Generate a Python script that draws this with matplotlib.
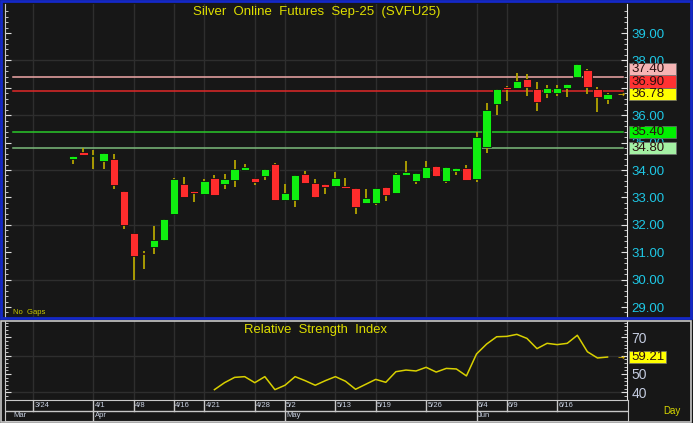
import numpy as np
import matplotlib
matplotlib.use('Agg')
import matplotlib.pyplot as plt
from matplotlib.patches import Rectangle
from matplotlib.transforms import blended_transform_factory

plt.rcParams['font.family'] = ['Liberation Sans', 'DejaVu Sans']

W, H = 693, 423

# daily bars (index 4..57 on the "no gaps" axis)
bar_first = 4
opens = [34.40, 34.65, 34.51, 34.34, 34.39, 33.22, 31.71, 30.98, 31.19, 31.46,
         32.39, 33.49, 33.22, 33.12, 33.72, 33.49, 33.64, 34.00, 33.72, 33.77,
         34.23, 32.89, 32.89, 33.86, 33.53, 33.49, 33.40, 33.42, 33.35, 32.80,
         32.80, 33.38, 33.16, 33.83, 33.59, 33.72, 34.16, 33.59, 33.96, 34.08,
         33.66, 34.85, 36.40, 37.02, 37.00, 37.32, 36.96, 36.82, 36.82, 37.00,
         37.38, 37.65, 36.95, 36.58]
highs = [34.52, 34.79, 34.73, 34.63, 34.58, 33.22, 31.71, 31.06, 31.96, 32.21,
         33.70, 33.76, 33.22, 33.66, 33.82, 33.85, 34.36, 34.22, 33.72, 34.05,
         34.27, 33.49, 33.83, 33.95, 33.66, 33.49, 33.94, 33.70, 33.35, 33.30,
         33.35, 33.38, 33.90, 34.33, 33.89, 34.32, 34.16, 34.10, 34.06, 34.19,
         35.40, 36.43, 36.97, 37.07, 37.53, 37.49, 37.22, 37.10, 37.10, 37.13,
         37.87, 37.70, 37.04, 36.80]
lows = [34.21, 34.54, 34.04, 34.04, 33.30, 31.86, 29.99, 30.40, 30.92, 31.42,
        32.39, 33.00, 32.84, 33.12, 33.09, 33.30, 33.39, 34.00, 33.45, 33.64,
        32.89, 32.89, 32.66, 33.53, 32.97, 33.12, 33.40, 33.33, 32.39, 32.80,
        32.71, 32.87, 33.16, 33.83, 33.48, 33.66, 33.76, 33.54, 33.83, 33.62,
        33.55, 34.61, 36.01, 36.53, 37.00, 36.71, 36.16, 36.62, 36.71, 36.68,
        37.35, 36.77, 36.11, 36.40]
closes = [34.52, 34.54, 34.56, 34.63, 33.46, 31.99, 30.86, 30.92, 31.45, 32.21,
          33.66, 33.00, 33.15, 33.59, 33.09, 33.66, 34.03, 34.12, 33.57, 34.05,
          32.89, 33.16, 33.83, 33.53, 33.01, 33.39, 33.72, 33.33, 32.64, 32.98,
          33.35, 33.08, 33.86, 33.93, 33.89, 34.10, 33.79, 34.10, 34.06, 33.62,
          35.19, 36.19, 36.97, 36.97, 37.25, 37.04, 36.49, 36.99, 36.99, 37.13,
          37.87, 37.04, 36.65, 36.78]

# RSI, starts at index 18
rsi_first = 18
rsi = [41.4, 45.2, 48.1, 48.5, 45.2, 48.5, 41.4, 43.8, 48.5, 46.3,
       43.8, 46.3, 48.5, 46.0, 41.6, 44.3, 47.0, 45.4, 51.2, 52.1,
       51.6, 53.6, 51.0, 53.0, 52.7, 48.9, 60.9, 66.3, 70.3, 70.5,
       71.6, 69.4, 63.8, 66.7, 66.0, 66.7, 71.1, 62.1, 58.7, 59.21]

levels = [37.40, 36.90, 35.40, 34.80]
level_line_colors = ['#f0a8a8', '#e02828', '#2ac82a', '#7cbc7c']
level_tag_colors = ['#f6b4b4', '#ff3232', '#00f000', '#a4f0a4']
last_price = 36.78

price_ticks = [29, 30, 31, 32, 33, 34, 35, 36, 37, 38, 39]
rsi_ticks = [40, 50, 60, 70]

date_pos = [0, 6, 10, 14, 17, 22, 25, 30, 34, 39, 44, 47, 52]
date_labels = ['3/24', '4/1', '4/8', '4/16', '4/21', '4/28', '5/2', '5/13',
               '5/19', '5/26', '6/4', '6/9', '6/16']
month_pos = [6, 25, 44]
month_labels = ['Mar', 'Apr', 'May', 'Jun']

BG = '#171717'
GRID = '#2e2e2e'
XLIM = (-2.78, 58.93)


def fig_rect(x0, y0, x1, y1):
    return [x0 / W, 1 - y1 / H, (x1 - x0) / W, (y1 - y0) / H]


fig = plt.figure(figsize=(W / 100, H / 100), dpi=100, facecolor=BG)

# ---------------- price panel ----------------
ax = fig.add_axes(fig_rect(5, 4, 627, 317), facecolor=BG)
ax.set_xlim(*XLIM)
ax.set_ylim(28.635, 40.06)

for g in range(30, 40, 2):
    ax.axhline(g, color=GRID, lw=1, zorder=0.5)
for p in date_pos:
    ax.axvline(p, color=GRID, lw=1, zorder=0.5)

for lvl, c in zip(levels, level_line_colors):
    ax.axhline(lvl, xmin=0.013, xmax=0.994, color=c, lw=1.1, zorder=1.5)

x = np.arange(bar_first, bar_first + len(opens))
o = np.array(opens)
c = np.array(closes)
up = c >= o
ax.vlines(x, lows, highs, color='#b4a400', lw=1.3, zorder=2)
body = np.maximum(np.abs(c - o), 0.05)
ax.bar(x, body, bottom=np.minimum(o, c), width=0.82,
       color=np.where(up, '#10f010', '#ff2c2c'),
       edgecolor='#101010', lw=0.6, zorder=3)

# tick labels hidden where the value tags sit on top of them
tags_all = levels + [last_price]
ax.yaxis.tick_right()
ax.set_yticks(price_ticks)
ax.set_yticklabels(['' if any(abs(t - v) < 0.15 for v in tags_all) else f'{t:.2f}'
                    for t in price_ticks])
ax.set_yticks(np.arange(28.8, 40.0, 0.2), minor=True)
ax.tick_params(axis='y', which='both', left=True, right=True, labelleft=False,
               labelright=True, direction='in', colors='#e0e0e0',
               labelcolor='#1ec8e6', labelsize=9.5, pad=3)
ax.tick_params(axis='y', which='major', length=4)
ax.tick_params(axis='y', which='minor', length=2)
ax.set_xticks([])
for s in ['top', 'bottom']:
    ax.spines[s].set_visible(False)
ax.spines['right'].set_color('#e8e8e8')
ax.spines['left'].set_color('#c8c8c8')

# value tags on the right axis, stacked so they don't overlap
tr = blended_transform_factory(ax.transAxes, ax.transData)
tag_h = 12.3 / 27.4
above = sorted([t for t in zip(levels, level_tag_colors) if t[0] > last_price])
below = sorted([t for t in zip(levels, level_tag_colors) if t[0] < last_price],
               reverse=True)
placed = [(last_price, last_price, '#ffff00')]
prev = last_price
for v, col in above:
    yv = max(v, prev + tag_h)
    placed.append((v, yv, col))
    prev = yv
prev = last_price
for v, col in below:
    yv = min(v, prev - tag_h)
    placed.append((v, yv, col))
    prev = yv
for v, yv, col in placed:
    ax.add_patch(Rectangle((1.0035, yv - tag_h / 2), 47 / 622, tag_h,
                           transform=tr, facecolor=col, edgecolor='#707070',
                           lw=0.5, clip_on=False, zorder=5))
    ax.text(1.0075, yv, f'{v:.2f}', transform=tr, ha='left', va='center',
            fontsize=9.5, color='#2a1010', clip_on=False, zorder=6)
ax.text(58.35, last_price, '→', color='#e8c000', fontsize=6, ha='center',
        va='center', family='DejaVu Sans', clip_on=False, zorder=6)

# ---------------- RSI panel ----------------
axr = fig.add_axes(fig_rect(5, 321, 627, 400), facecolor=BG)
axr.set_xlim(*XLIM)
axr.set_ylim(35.74, 78.9)
for g in [40, 60]:
    axr.axhline(g, color=GRID, lw=1, zorder=0.5)
for p in date_pos:
    axr.axvline(p, color=GRID, lw=1, zorder=0.5)
xr = np.arange(rsi_first, rsi_first + len(rsi))
axr.plot(xr, rsi, color='#d8d000', lw=1.1, zorder=3)

axr.yaxis.tick_right()
axr.set_yticks(rsi_ticks)
axr.set_yticklabels(['' if abs(t - rsi[-1]) < 3 else str(t) for t in rsi_ticks])
axr.set_yticks(np.arange(36, 79, 2), minor=True)
axr.tick_params(axis='y', which='both', left=True, right=True, labelleft=False,
                labelright=True, direction='in', colors='#e0e0e0',
                labelcolor='#c4cce0', labelsize=10, pad=3)
axr.tick_params(axis='y', which='major', length=4)
axr.tick_params(axis='y', which='minor', length=2)
axr.set_xticks([])
for s in ['top', 'bottom']:
    axr.spines[s].set_visible(False)
axr.spines['right'].set_color('#e8e8e8')
axr.spines['left'].set_color('#c8c8c8')

trr = blended_transform_factory(axr.transAxes, axr.transData)
rsi_tag_h = 11.6 / 1.83
axr.add_patch(Rectangle((1.0035, rsi[-1] - rsi_tag_h / 2), 37 / 622, rsi_tag_h,
                        transform=trr, facecolor='#ffff00', edgecolor='#707070',
                        lw=0.5, clip_on=False, zorder=5))
axr.text(1.0075, rsi[-1], f'{rsi[-1]:.2f}', transform=trr, ha='left',
         va='center', fontsize=9.5, color='#2a1010', clip_on=False, zorder=6)
axr.text(58.35, rsi[-1], '→', color='#e8c000', fontsize=6, ha='center',
         va='center', family='DejaVu Sans', clip_on=False, zorder=6)

# ---------------- date rows ----------------
axd = fig.add_axes(fig_rect(5, 400, 628, 421), facecolor=BG)
axd.set_xlim(XLIM[0], XLIM[1] + 1 / 10.08)
axd.set_ylim(0, 2)
axd.set_xticks([])
axd.set_yticks([])
for s in axd.spines.values():
    s.set_color('#c8c8c8')
axd.axhline(1, color='#c8c8c8', lw=1)
for p, lab in zip(date_pos, date_labels):
    axd.plot([p, p], [1, 2], color='#c8c8c8', lw=1)
    axd.text(p + 0.12, 1.5, lab, fontsize=5.5, color='#c8d0e0',
             ha='left', va='center')
for p, lab in zip(month_pos, month_labels[1:]):
    axd.plot([p, p], [0, 1], color='#c8c8c8', lw=1)
    axd.text(p + 0.12, 0.5, lab, fontsize=5.5, color='#c8d0e0',
             ha='left', va='center')
axd.text(0.013, 0.25, month_labels[0], transform=axd.transAxes, fontsize=5.5,
         color='#c8d0e0', ha='left', va='center')

# ---------------- frames and texts ----------------
fig.patches.append(Rectangle((1 / W, 1 - 318 / H), 690 / W, 317 / H,
                             transform=fig.transFigure, fill=False,
                             edgecolor='#1428c8', lw=2))
fig.patches.append(Rectangle((1 / W, 1 - 421.5 / H), 690 / W, 101 / H,
                             transform=fig.transFigure, fill=False,
                             edgecolor='#c8c8c8', lw=1.2))

fig.text(316.5 / W, 1 - 12 / H, 'Silver  Online  Futures  Sep-25  (SVFU25)',
         ha='center', va='center', fontsize=9.5, color='#dede00')
fig.text(315.5 / W, 1 - 330.5 / H, 'Relative  Strength  Index',
         ha='center', va='center', fontsize=9.4, color='#dede00')
fig.text(13 / W, 1 - 313 / H, 'No  Gaps', ha='left', va='center',
         fontsize=5.5, color='#c8c800')
fig.text(672 / W, 1 - 411 / H, 'Day', ha='center', va='center',
         fontsize=7, color='#d8d800')

fig.savefig('out.png', dpi=100, facecolor=BG)
